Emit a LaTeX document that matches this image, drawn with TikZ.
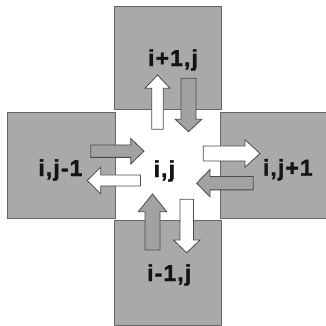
\documentclass[tikz,border=0pt]{standalone}
\usepackage{fontspec}
\setmainfont{Liberation Sans}
\newfontfamily\cellfont[LetterSpace=5, FakeBold=1.6]{Liberation Sans Bold}
\definecolor{cellgray}{HTML}{A9A9A9}
\definecolor{cellline}{HTML}{666666}
\definecolor{arrowgray}{HTML}{A2A2A2}
\definecolor{arrowline}{HTML}{4A4A4A}
% block arrow: style, start x, start y, angle, length, shaft half width, head half width, head length
\newcommand\blkarrow[8]{%
  \begin{scope}[shift={(#2,#3)},rotate=#4]
    \draw[#1] (0,-#6) -- (#5-#8,-#6) -- (#5-#8,-#7) -- (#5,0) -- (#5-#8,#7) -- (#5-#8,#6) -- (0,#6) -- cycle;
  \end{scope}}
\tikzset{
  cell/.style={draw=cellline, fill=cellgray, line width=1bp},
  grayarrow/.style={draw=arrowline, fill=arrowgray, line width=0.8bp, line join=miter},
  whitearrow/.style={draw=arrowline, fill=white, line width=0.8bp, line join=miter},
  lbl/.style={anchor=base, inner sep=0pt, font=\cellfont\fontsize{23}{23}\selectfont, text=black!92}
}
\begin{document}
\begin{tikzpicture}[x=1bp, y=1bp]
  \useasboundingbox (0,0) rectangle (326,326);
  \fill[white] (0,0) rectangle (326,326);
  % neighbouring cells
  \draw[cell] (114.3,216) rectangle (221.7,319.3);
  \draw[cell] (7.7,107.7) rectangle (115,213.7);
  \draw[cell] (220,107.5) rectangle (328,213.8);
  \draw[cell] (114.3,1) rectangle (221.7,105);
  % central cell
  \fill[white] (115.5,108.2) rectangle (219.5,215.5);
  % labels
  \node[lbl] (up)     at (173,260)   {i+1,j};
  \node[lbl] (left)   at (60.4,150)  {i,j-1};
  \node[lbl] (centre) at (164.3,149) {i,j};
  \node[lbl] (right)  at (287.8,150.3) {i,j+1};
  \node[lbl] (down)   at (169.2,45)  {i-1,j};
  % exchanges with the upper cell
  \blkarrow{whitearrow}{157.5}{196.7}{90}{54.3}{5.8}{12.5}{13.3}
  \blkarrow{grayarrow}{188.5}{247.7}{-90}{53.4}{7.5}{13.3}{12.4}
  % exchanges with the left cell
  \blkarrow{grayarrow}{90.7}{174.8}{0}{53.3}{6.2}{12.8}{13.3}
  \blkarrow{whitearrow}{140.5}{145.5}{180}{53.2}{5.5}{13.3}{13.4}
  % exchanges with the right cell
  \blkarrow{whitearrow}{203.3}{172.5}{0}{56.7}{7.5}{13.7}{15}
  \blkarrow{grayarrow}{253.3}{142.8}{180}{56.6}{6.7}{13.7}{13.3}
  % exchanges with the lower cell
  \blkarrow{grayarrow}{152.5}{76}{90}{56}{7.5}{14.2}{17.7}
  \blkarrow{whitearrow}{186.7}{126.7}{-90}{53.4}{6.7}{13.3}{12.7}
\end{tikzpicture}
\end{document}
